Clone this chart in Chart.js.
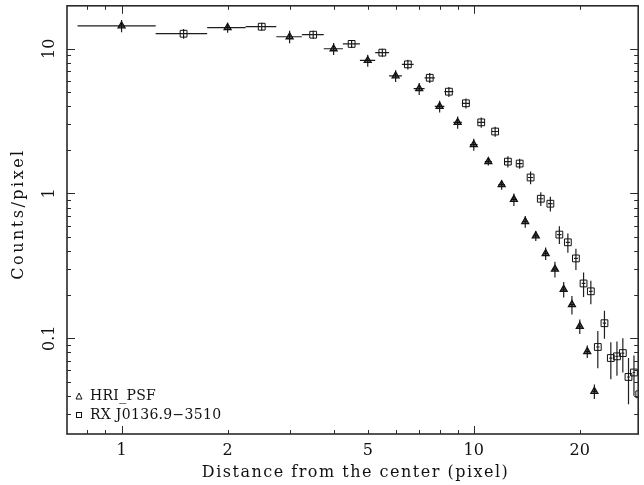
<!DOCTYPE html>
<html>
<head>
<meta charset="utf-8">
<script src="https://cdn.jsdelivr.net/npm/chart.js@4.4.1/dist/chart.umd.min.js"></script>
<style>
  html, body { margin: 0; padding: 0; background: #fff; }
  #wrap { width: 644px; height: 485px; }
</style>
</head>
<body>
<div id="wrap"><canvas id="profile" width="644" height="485"></canvas></div>
<script>
/* ── Radial profile: HRI PSF vs RX J0136.9-3510 (log-log) ── */

const psfX   = [1, 2, 3, 4, 5, 6, 7, 8, 9, 10, 11, 12, 13, 14, 15, 16, 17, 18, 19, 20, 21, 22];
const psfY   = [14.4, 14.0, 12.1, 10.0, 8.3, 6.5, 5.3, 4.0, 3.1, 2.18, 1.66, 1.15,
                0.91, 0.64, 0.51, 0.385, 0.30, 0.218, 0.171, 0.121, 0.081, 0.043];
const psfErr = [1.4, 1.1, 1.2, 0.95, 0.8, 0.6, 0.5, 0.38, 0.3, 0.21, 0.1, 0.09,
                0.09, 0.06, 0.04, 0.038, 0.037, 0.027, 0.025, 0.014, 0.008, 0.005];

const srcX   = [1.5, 2.5, 3.5, 4.5, 5.5, 6.5, 7.5, 8.5, 9.5, 10.5, 11.5, 12.5, 13.5, 14.5, 15.5,
                16.5, 17.5, 18.5, 19.5, 20.5, 21.5, 22.5, 23.5, 24.5, 25.5, 26.5, 27.5, 28.5, 29.5];
const srcY   = [12.7, 14.2, 12.5, 10.8, 9.4, 7.8, 6.3, 5.05, 4.2, 3.1, 2.68, 1.66, 1.61, 1.29, 0.92,
                0.85, 0.52, 0.46, 0.356, 0.239, 0.211, 0.087, 0.127, 0.073, 0.075, 0.079, 0.054, 0.058, 0.041];
const srcErr = [1.0, 0.9, 0.8, 0.7, 0.6, 0.6, 0.5, 0.4, 0.33, 0.25, 0.21, 0.15, 0.13, 0.13, 0.1,
                0.1, 0.073, 0.07, 0.06, 0.046, 0.039, 0.025, 0.028, 0.021, 0.02, 0.021, 0.019, 0.018, 0.015];

const binHalfWidth = 0.25;   // x error bar (pixel bins of 0.5)

const xTickLabels = [1, 2, 5, 10, 20];
const yTickLabels = [0.1, 1, 10];
const xMajorTicks = [1, 10];
const xMinorTicks = [0.8, 0.9, 2, 3, 4, 5, 6, 7, 8, 9, 20];
const yMajorTicks = [0.1, 1, 10];
const yMinorTicks = [0.03, 0.04, 0.05, 0.06, 0.07, 0.08, 0.09,
                     0.2, 0.3, 0.4, 0.5, 0.6, 0.7, 0.8, 0.9,
                     2, 3, 4, 5, 6, 7, 8, 9];

const FONT = 'DejaVu Serif';
const INK  = '#111';

/* ── error bars, drawn under the markers ── */
const errorBars = {
  id: 'errorBars',
  beforeDatasetsDraw(chart) {
    const { ctx, chartArea: a, scales: { x, y } } = chart;
    ctx.save();
    ctx.beginPath();
    ctx.rect(a.left, a.top, a.right - a.left, a.bottom - a.top);
    ctx.clip();
    ctx.strokeStyle = '#1e1e1e';
    ctx.lineWidth = 1.2;
    chart.data.datasets.forEach(ds => {
      ds.data.forEach((p, i) => {
        const e  = ds.err[i];
        const px = x.getPixelForValue(p.x);
        const py = y.getPixelForValue(p.y);
        ctx.beginPath();
        ctx.moveTo(x.getPixelForValue(p.x - binHalfWidth), py);
        ctx.lineTo(x.getPixelForValue(p.x + binHalfWidth), py);
        ctx.moveTo(px, y.getPixelForValue(p.y + e));
        ctx.lineTo(px, y.getPixelForValue(Math.max(p.y - e, 1e-4)));
        ctx.stroke();
      });
    });
    ctx.restore();
  },
};

/* ── box frame with inward ticks on all four sides ── */
const frameTicks = {
  id: 'frameTicks',
  afterDatasetsDraw(chart) {
    const { ctx, chartArea: a, scales: { x, y } } = chart;
    ctx.save();
    ctx.strokeStyle = '#2a2a2a';
    ctx.lineWidth = 1;
    const xt = (vals, len) => vals.forEach(v => {
      const px = Math.round(x.getPixelForValue(v)) + 0.5;
      ctx.moveTo(px, a.bottom); ctx.lineTo(px, a.bottom - len);
      ctx.moveTo(px, a.top);    ctx.lineTo(px, a.top + len);
    });
    const yt = (vals, len) => vals.forEach(v => {
      const py = Math.round(y.getPixelForValue(v)) + 0.5;
      ctx.moveTo(a.left, py);  ctx.lineTo(a.left + len, py);
      ctx.moveTo(a.right, py); ctx.lineTo(a.right - len, py);
    });
    ctx.beginPath();
    xt(xMajorTicks, 8); xt(xMinorTicks, 4);
    yt(yMajorTicks, 8); yt(yMinorTicks, 4);
    ctx.stroke();

    ctx.lineWidth = 1.6;
    ctx.strokeRect(a.left, a.top, a.right - a.left, a.bottom - a.top);
    ctx.restore();
  },
};

/* ── y tick labels (rotated), axis titles and the in-plot key ── */
const annotations = {
  id: 'annotations',
  afterDraw(chart) {
    const { ctx, chartArea: a, scales: { y } } = chart;
    ctx.save();
    ctx.fillStyle = INK;
    ctx.textAlign = 'center';
    ctx.textBaseline = 'middle';

    ctx.font = `16px "${FONT}"`;
    yTickLabels.forEach(v => {
      ctx.save();
      ctx.translate(50, y.getPixelForValue(v));
      ctx.rotate(-Math.PI / 2);
      ctx.fillText(String(v), 0, 0);
      ctx.restore();
    });

    // titles: the original type is set a little wide
    const spaced = 'letterSpacing' in ctx;
    if (spaced) ctx.letterSpacing = '1.5px';
    ctx.fillText('Distance from the center (pixel)', (a.left + a.right) / 2 + 3, 473);
    if (spaced) ctx.letterSpacing = '2.5px';
    ctx.save();
    ctx.translate(19, 214);
    ctx.rotate(-Math.PI / 2);
    ctx.fillText('Counts/pixel', 0, 0);
    ctx.restore();
    if (spaced) ctx.letterSpacing = '0px';

    // key
    ctx.strokeStyle = INK;
    ctx.lineWidth = 1;
    ctx.beginPath();
    ctx.moveTo(79, 393); ctx.lineTo(82, 399); ctx.lineTo(76, 399); ctx.closePath();
    ctx.stroke();
    ctx.strokeRect(76.5, 412.5, 5, 5);
    ctx.textAlign = 'left';
    ctx.font = `14px "${FONT}"`;
    if (spaced) ctx.letterSpacing = '0.3px';
    ctx.fillText('HRI_PSF', 90, 396);
    ctx.fillText('RX J0136.9\u22123510', 90, 415);
    ctx.restore();
  },
};

new Chart(document.getElementById('profile'), {
  type: 'scatter',
  data: {
    datasets: [
      {
        label: 'HRI_PSF',
        data: psfX.map((x, i) => ({ x, y: psfY[i] })),
        err: psfErr,
        pointStyle: 'triangle',
        radius: 4,
        borderColor: INK,
        backgroundColor: 'rgba(0,0,0,0.5)',
        borderWidth: 1.3,
      },
      {
        label: 'RX J0136.9\u22123510',
        data: srcX.map((x, i) => ({ x, y: srcY[i] })),
        err: srcErr,
        pointStyle: 'rect',
        radius: 4.8,
        borderColor: INK,
        backgroundColor: 'rgba(255,255,255,0)',
        borderWidth: 1,
      },
    ],
  },
  options: {
    responsive: false,
    animation: false,
    layout: { padding: { top: 5, right: 1, left: 0, bottom: 0 } },
    plugins: {
      legend:  { display: false },
      tooltip: { enabled: false },
    },
    scales: {
      x: {
        type: 'logarithmic',
        min: 0.7,
        max: 29.3,
        grid:   { display: false, drawTicks: false },
        border: { display: false },
        afterFit: s => { s.height = 51; },
        afterBuildTicks: s => { s.ticks = xTickLabels.map(v => ({ value: v })); },
        ticks: {
          autoSkip: false,
          maxRotation: 0,
          padding: 7,
          color: INK,
          font: { family: FONT, size: 16 },
          callback: v => String(v),
        },
      },
      y: {
        type: 'logarithmic',
        min: 0.0218,
        max: 19.8,
        grid:   { display: false, drawTicks: false },
        border: { display: false },
        ticks:  { display: false },
        afterFit: s => { s.width = 67; },
      },
    },
  },
  plugins: [errorBars, frameTicks, annotations],
});
</script>
</body>
</html>
